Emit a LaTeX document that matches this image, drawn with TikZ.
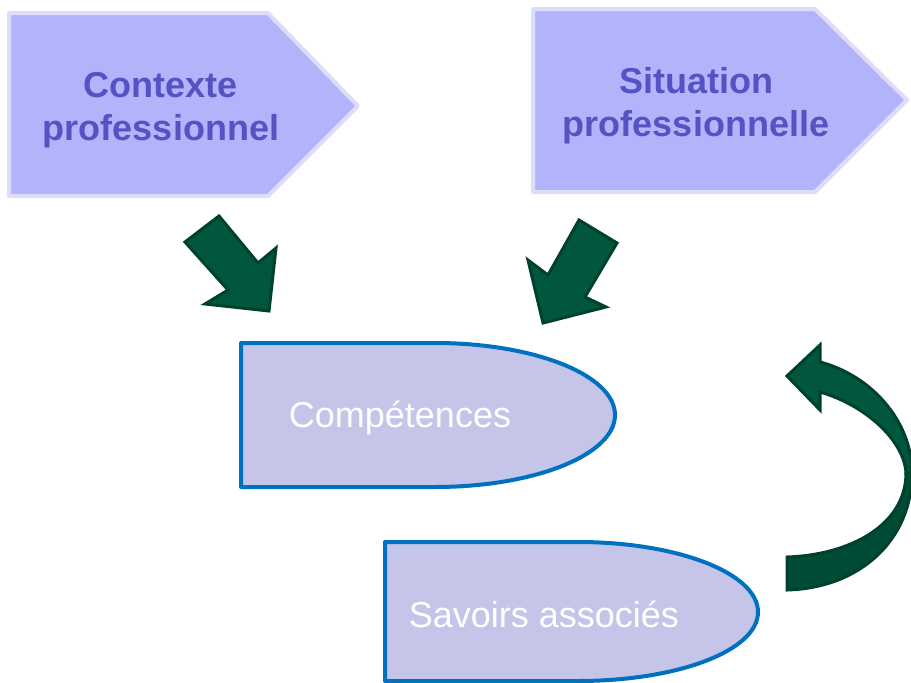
\documentclass[tikz,border=0pt]{standalone}
\usepackage{fontspec}
\setmainfont{Liberation Sans}
\definecolor{penfill}{HTML}{B3B3FC}
\definecolor{penborder}{HTML}{DDDDFA}
\definecolor{pentext}{HTML}{5353C3}
\definecolor{grfill}{HTML}{00573D}
\definecolor{grborder}{HTML}{00412D}
\definecolor{grdark}{HTML}{004B35}
\definecolor{bulfill}{HTML}{C5C5EA}
\definecolor{bulborder}{HTML}{0070C0}
\tikzset{
  pentagonbox/.style={fill=penfill,draw=penborder,line width=4pt,line join=round},
  greenarrow/.style={fill=grfill,draw=grborder,line width=3pt,line join=miter},
  bulletbox/.style={fill=bulfill,draw=bulborder,line width=4pt,line join=round},
  toptext/.style={text=pentext,font=\fontsize{36}{43}\selectfont\bfseries,align=center,inner sep=0pt},
  bultext/.style={text=white,font=\fontsize{36}{43}\selectfont,inner sep=0pt}
}
\begin{document}
\begin{tikzpicture}[x=1pt,y=-1pt]
\useasboundingbox (0,0) rectangle (911,683);
\clip (0,0) rectangle (911,683);
% pentagons
\path[pentagonbox] (9,13) -- (268,13) -- (358,106) -- (268,196) -- (9,196) -- cycle;
\path[pentagonbox] (533,9) -- (815,9) -- (907,100) -- (815,192) -- (533,192) -- cycle;
\node[toptext] (ctx) at (161,110) {Contexte\\professionnel};
\node[toptext] (sit) at (696,106) {Situation\\professionnelle};
% straight green arrows
\path[greenarrow] (185,242) -- (219,216) -- (258,263) -- (276,248) -- (269,311) -- (205,304) -- (228,290) -- cycle;
\path[greenarrow] (579,220) -- (617,243) -- (585,297) -- (606,307) -- (543,323) -- (528,260) -- (548,275) -- cycle;
% bullet shapes
\path[bulletbox] (241,343) -- (435,343) .. controls (534.4,343) and (615,375.2) .. (615,415)
  .. controls (615,454.8) and (534.4,487) .. (435,487) -- (241,487) -- cycle;
\path[bulletbox] (385,542) -- (578,542) .. controls (677.4,542) and (758,573.2) .. (758,612)
  .. controls (758,650.8) and (677.4,681) .. (578,681) -- (385,681) -- cycle;
\node[bultext] (comp) at (400,418) {Compétences};
\node[bultext] (sav) at (544,614) {Savoirs associés};
% curved arrow
\path[greenarrow] (906,473) .. controls (904,440) and (865,405) .. (820,392) -- (820,410) -- (787,376) -- (820,345) -- (820,362)
  .. controls (870,375) and (912,420) .. (912,473) -- cycle;
\path[greenarrow,fill=grdark] (787,557) .. controls (850,555) and (906,525) .. (906,473)
  -- (912,473) .. controls (912,540) and (860,588) .. (787,590) -- cycle;
\end{tikzpicture}
\end{document}
